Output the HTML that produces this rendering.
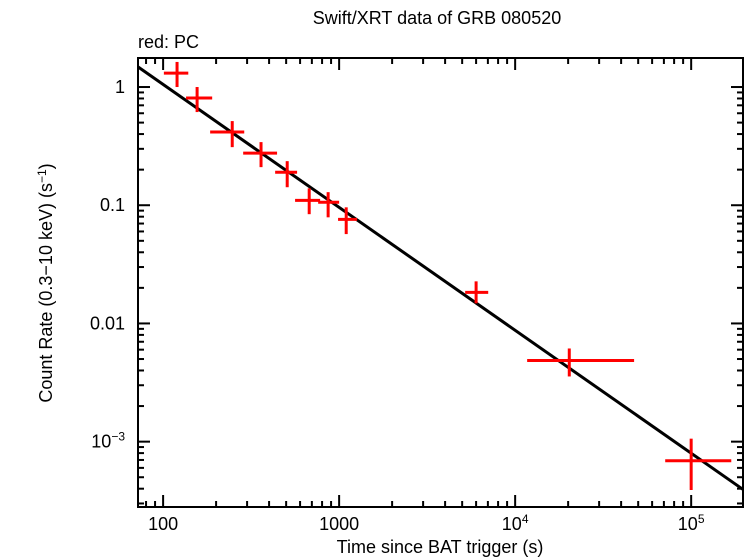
<!DOCTYPE html>
<html><head><meta charset="utf-8"><style>
html,body{margin:0;padding:0;background:#fff;}
svg{display:block;font-family:"Liberation Sans",sans-serif;}
</style></head><body>
<svg id="chart" width="746" height="558" viewBox="0 0 746 558" xmlns="http://www.w3.org/2000/svg">
<text x="437" y="24" font-size="18" text-anchor="middle">Swift/XRT data of GRB 080520</text>
<text x="138" y="48" font-size="18">red: PC</text>
<text x="440" y="553" font-size="18" text-anchor="middle">Time since BAT trigger (s)</text>
<text transform="translate(52,283) rotate(-90)" font-size="18" text-anchor="middle">Count Rate (0.3−10 keV) (s<tspan dy="-6" font-size="12">−1</tspan><tspan dy="6">)</tspan></text>
<g id="ticks"></g><g id="marks"></g>
<rect x="138" y="58" width="605" height="449" fill="none" stroke="#000" stroke-width="2"/>
</svg>
<script>
const times=[120,156,247,360,507,676,866,1097,6000,20300,100000];
const timeLo=[101,135,185,285,433,562,760,986,5200,11700,71200];
const timeHi=[139,190,289,444,577,780,1000,1265,7030,47400,169000];
const rates=[1.31,0.807,0.416,0.276,0.19,0.11,0.106,0.076,0.0183,0.00486,0.00069];
const rateLo=[1.0,0.614,0.31,0.21,0.142,0.084,0.079,0.057,0.0148,0.00356,0.00039];
const rateHi=[1.63,1.0,0.515,0.342,0.236,0.139,0.129,0.096,0.0227,0.00614,0.00106];
const fitNorm=[1.48];
const fitIndex=[1.04];
const fitRefTime=[72];
const xTickVals=[100,1000,10000,100000];
const xTickLabels=["100","1000","10^4","10^5"];
const yTickVals=[1,0.1,0.01,0.001];
const yTickLabels=["1","0.1","0.01","10^-3"];

const X0=138,X1=743,Y0=58,Y1=507;
const xmin=Math.log10(72),xmax=Math.log10(197000),ymax=Math.log10(1.76),ymin=Math.log10(2.8e-4);
const sx=v=>X0+(Math.log10(v)-xmin)/(xmax-xmin)*(X1-X0);
const sy=v=>Y0+(ymax-Math.log10(v))/(ymax-ymin)*(Y1-Y0);
const NS="http://www.w3.org/2000/svg";
function mk(tag,attrs,parent){const e=document.createElementNS(NS,tag);for(const k in attrs)e.setAttribute(k,attrs[k]);parent.appendChild(e);return e;}
const T=document.getElementById('ticks'),M=document.getElementById('marks');
function lbl(parent,x,y,s,anchor){
  const t=mk('text',{x:x,y:y,'font-size':18,'text-anchor':anchor},parent);
  if(s.includes('^')){const [b,e]=s.split('^');t.textContent=b;const sp=mk('tspan',{dy:-7,'font-size':12},t);sp.textContent=e.replace('-','−');}
  else t.textContent=s;
  return t;
}
for(let d=1;d<=5;d++){for(let m=1;m<10;m++){const v=m*Math.pow(10,d);if(v<72||v>197000)continue;const x=sx(v);const L=m===1?12:6;
  const a=mk('line',{x1:x,y1:Y1,x2:x,y2:Y1-L,stroke:'#000','stroke-width':2},T);
  
  const b=mk('line',{x1:x,y1:Y0,x2:x,y2:Y0+L,stroke:'#000','stroke-width':2},T);
  }}
xTickVals.forEach((v,i)=>{const t=lbl(T,sx(v),530,xTickLabels[i],'middle');
  });
for(let d=-4;d<=0;d++){for(let m=1;m<10;m++){const v=m*Math.pow(10,d);if(v<2.8e-4||v>1.76)continue;const y=sy(v);const L=m===1?12:6;
  const a=mk('line',{x1:X0,y1:y,x2:X0+L,y2:y,stroke:'#000','stroke-width':2},T);
  
  const b=mk('line',{x1:X1,y1:y,x2:X1-L,y2:y,stroke:'#000','stroke-width':2},T);
  }}
yTickVals.forEach((v,i)=>{const t=lbl(T,125,sy(v)+6,yTickLabels[i],'end');
  });
const fit=t=>fitNorm[0]*Math.pow(t/fitRefTime[0],-fitIndex[0]);
const fl=mk('line',{x1:sx(72),y1:sy(fit(72)),x2:sx(197000),y2:sy(fit(197000)),stroke:'#000','stroke-width':3},M);

times.forEach((t,i)=>{
  const g=mk('g',{},M);
  
  mk('line',{x1:sx(timeLo[i]),y1:sy(rates[i]),x2:sx(timeHi[i]),y2:sy(rates[i]),stroke:'#f00','stroke-width':3},g);
  mk('line',{x1:sx(t),y1:sy(rateLo[i]),x2:sx(t),y2:sy(rateHi[i]),stroke:'#f00','stroke-width':3},g);
});
</script>
</body></html>
